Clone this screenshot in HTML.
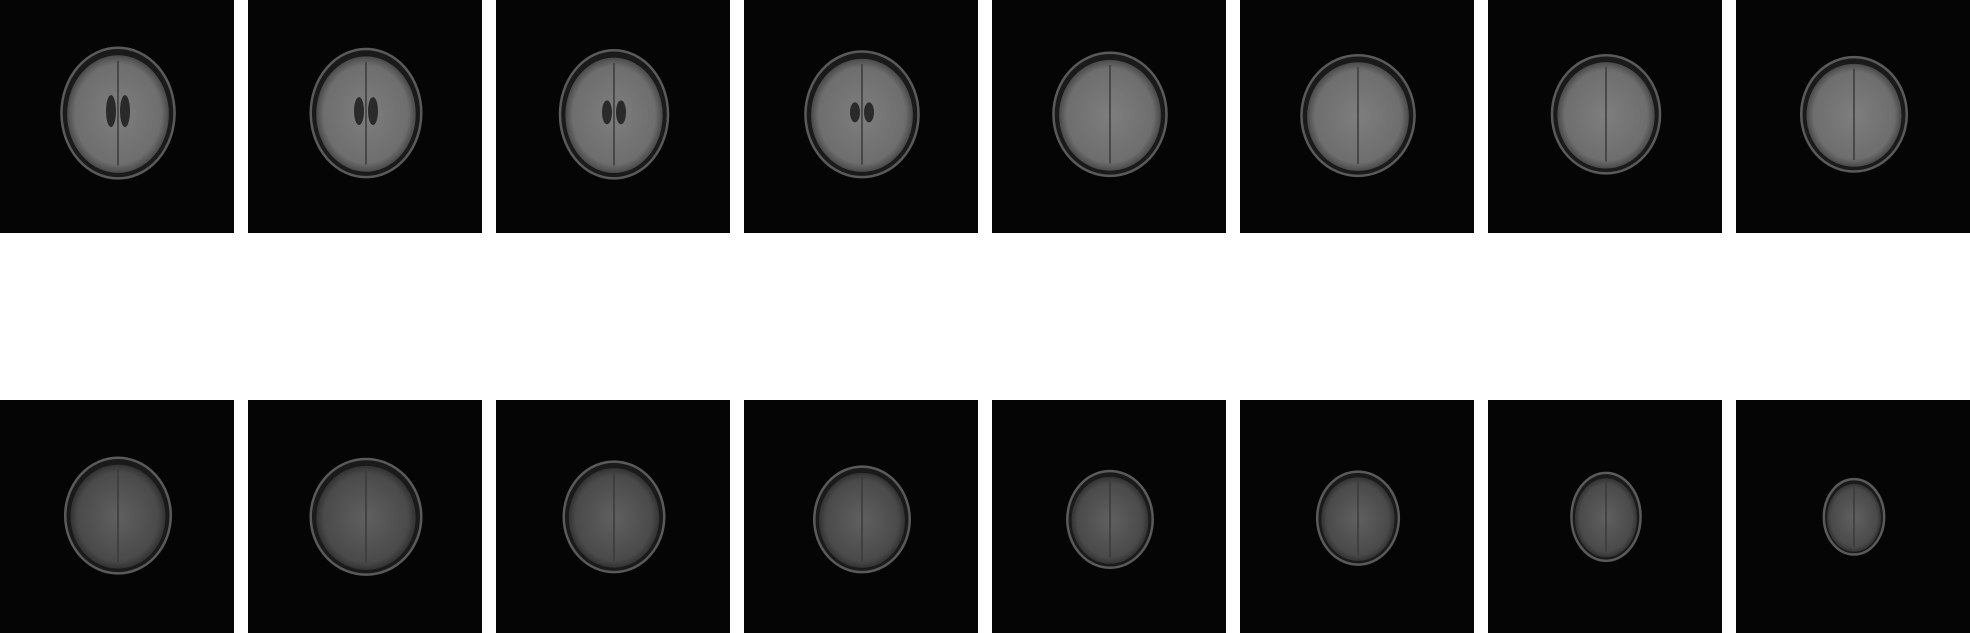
<!DOCTYPE html>
<html><head><meta charset="utf-8"><style>
html,body{margin:0;padding:0;background:#fff;width:1970px;height:633px;overflow:hidden}
svg{display:block}
</style></head><body>
<svg id="fig" width="1970" height="633" xmlns="http://www.w3.org/2000/svg">
<defs>
<radialGradient id="tissue" cx="50%" cy="50%" r="50%">
<stop offset="0" stop-color="#7e7e7e"/><stop offset="0.85" stop-color="#6e6e6e"/><stop offset="1" stop-color="#4a4a4a"/>
</radialGradient>
<radialGradient id="tissue2" cx="50%" cy="50%" r="50%">
<stop offset="0" stop-color="#606060"/><stop offset="0.85" stop-color="#4a4a4a"/><stop offset="1" stop-color="#333"/>
</radialGradient>
</defs>
</svg>
<script>
// brain extents in display units (reference scaled by 1970/1568)
const topWidths = [90, 88, 86, 90, 90, 90, 86, 84];
const topHeights = [104, 102, 102, 100, 98, 96, 94, 91];
const topCy = [90, 90, 91, 91, 91, 92, 91, 91];
const botWidths = [84, 88, 80, 76, 68, 65, 55, 48];
const botHeights = [92, 92, 88, 84, 77, 74, 70, 60];
const botCy = [92, 93, 93, 95, 95, 94, 93, 93];
const S = 1970/1568, PW = 234, PITCH = 248, PH = 233;
const rowY = [0, 400];
const svg = document.getElementById('fig');
const NS = 'http://www.w3.org/2000/svg';
function mk(tag, attrs){const e=document.createElementNS(NS,tag);for(const k in attrs)e.setAttribute(k,attrs[k]);return e;}
function drawRow(r, ws, hs, cys, grad){
  for(let i=0;i<ws.length;i++){
    const g = mk('g',{});
    
    
    const x0 = i*PITCH, y0 = rowY[r];
    g.appendChild(mk('rect',{x:x0,y:y0,width:PW,height:PH,fill:'#050505'}));
    const cx = x0 + PW/2 + 1, cy = y0 + cys[i]*S;
    const rx = ws[i]*S/2, ry = hs[i]*S/2;
    const skull = mk('ellipse',{cx:cx,cy:cy,rx:rx,ry:ry,fill:'#1a1a1a',stroke:'#5a5a5a','stroke-width':2.5});
    
    
    g.appendChild(skull);
    const brain = mk('ellipse',{cx:cx,cy:cy+1,rx:rx*0.9,ry:ry*0.9,fill:'url(#'+grad+')'});
    
    
    g.appendChild(brain);
    g.appendChild(mk('line',{x1:cx,y1:cy-ry*0.8,x2:cx,y2:cy+ry*0.8,stroke:'#3a3a3a','stroke-width':1.5}));
    if(r===0 && i<4){
      g.appendChild(mk('ellipse',{cx:cx-7,cy:cy-2,rx:5,ry:16-i*2,fill:'#2a2a2a'}));
      g.appendChild(mk('ellipse',{cx:cx+7,cy:cy-2,rx:5,ry:16-i*2,fill:'#2a2a2a'}));
    }
    svg.appendChild(g);
  }
}
drawRow(0, topWidths, topHeights, topCy, 'tissue');
drawRow(1, botWidths, botHeights, botCy, 'tissue2');
</script>
</body></html>
